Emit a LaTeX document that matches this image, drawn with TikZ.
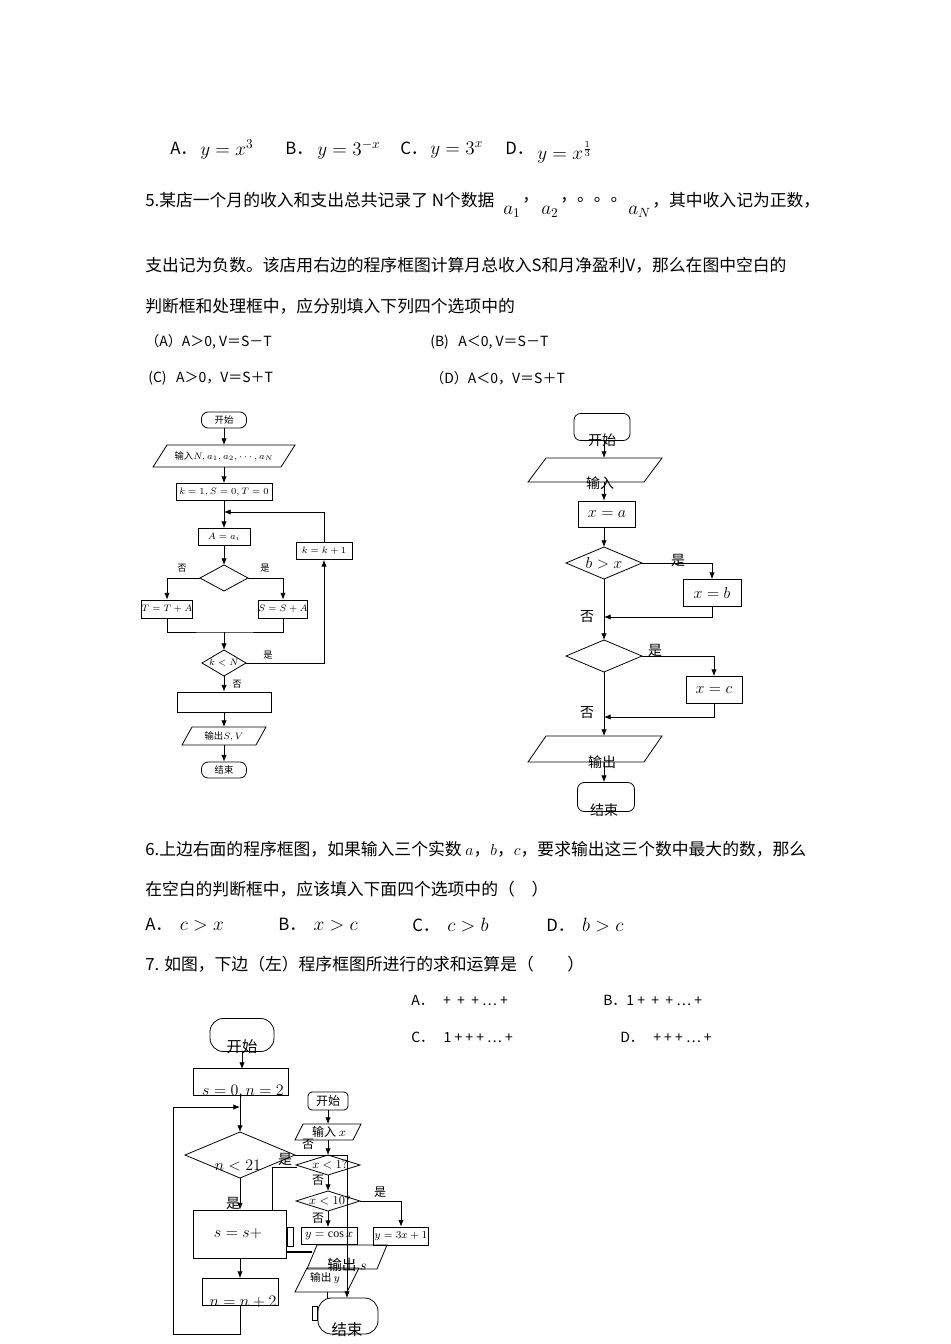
\documentclass[tikz,border=0pt]{standalone}
\usepackage{fontspec}
\setmainfont{Liberation Serif}
\newfontfamily\cjk{Noto Sans CJK SC}
\usetikzlibrary{arrows.meta}
\newcommand\para[6]{\draw[fl] ({#2-#4+#6},{#3-#5}) -- ({#2+#4},{#3-#5}) -- ({#2+#4-#6},{#3+#5}) -- ({#2-#4},{#3+#5}) -- cycle;
 \coordinate (#1-n) at (#2,{#3-#5}); \coordinate (#1-s) at (#2,{#3+#5});}
\newcommand\dia[5]{\draw[fl] ({#2-#4},#3) coordinate(#1-w) -- (#2,{#3-#5}) coordinate(#1-n) -- ({#2+#4},#3) coordinate(#1-e) -- (#2,{#3+#5}) coordinate(#1-s) -- cycle;}
\begin{document}
\begin{tikzpicture}[x=0.75pt,y=-0.75pt,
 txt/.style={anchor=west,inner sep=0pt,font=\cjk\fontsize{12.6}{14}\selectfont},
 opt/.style={anchor=west,inner sep=0pt,font=\cjk\fontsize{10.5}{12}\selectfont},
 fl/.style={draw,line width=0.6pt},
 bx/.style={draw,line width=0.6pt,inner sep=0pt},
 rbx/.style={bx,rounded corners=5pt},
 ar/.style={line width=0.6pt,-{Latex[length=5pt,width=4pt]}},
 ln/.style={line width=0.6pt},
 sm/.style={inner sep=0pt,font=\cjk\fontsize{7}{8}\selectfont},
 md/.style={inner sep=0pt,font=\cjk\fontsize{10.5}{11}\selectfont}]
\useasboundingbox (0,0) rectangle (950,1344);
% ---- top options
\node[txt] (a1) at (170,148) {A．};
\node[txt,font=\fontsize{14}{14}\selectfont] (a2) at (200,150) {$y=x^3$};
\node[txt] (b1) at (285,148) {B．};
\node[txt,font=\fontsize{14}{14}\selectfont] (b2) at (317,150) {$y=3^{-x}$};
\node[txt] (c1) at (400,148) {C．};
\node[txt,font=\fontsize{14}{14}\selectfont] (c2) at (430,150) {$y=3^x$};
\node[txt] (d1) at (505,148) {D．};
\node[txt,font=\fontsize{14}{14}\selectfont] (d2) at (537,152) {$y=x^{\frac13}$};
% ---- Q5
\node[txt] (q5a) at (145,200) {5.某店一个月的收入和支出总共记录了 N个数据};
\node[txt,font=\fontsize{14}{14}\selectfont] (q5b) at (503,212) {$a_1$};
\node[txt] (q5c) at (522,200) {，};
\node[txt,font=\fontsize{14}{14}\selectfont] (q5d) at (541,212) {$a_2$};
\node[txt] (q5e) at (560,200) {，。。。};
\node[txt,font=\fontsize{14}{14}\selectfont] (q5f) at (628,212) {$a_N$};
\node[txt] (q5g) at (652,200) {，其中收入记为正数，};
\node[txt] (q5h) at (145,265) {支出记为负数。该店用右边的程序框图计算月总收入S和月净盈利V，那么在图中空白的};
\node[txt] (q5i) at (145,306) {判断框和处理框中，应分别填入下列四个选项中的};
\node[opt] (oA) at (145,342) {（A）A＞0, V＝S－T};
\node[opt] (oB) at (430,342) {(B)\ \ \ A＜0, V＝S－T};
\node[opt] (oC) at (148,378) {(C)\ \ \ A＞0，V＝S＋T};
\node[opt] (oD) at (430,378) {（D）A＜0，V＝S＋T};
% ---- left flowchart
\node[rbx,minimum width=45*0.75pt,minimum height=16*0.75pt,sm] (L0) at (224,420) {开始};
\para{Lin}{224}{456}{71}{11}{14}
\node[sm] (Linl) at (224,456) {输入$N,a_1,a_2,\cdots,a_N$};
\node[bx,minimum width=96*0.75pt,minimum height=17*0.75pt,sm] (L1) at (224,492) {$k=1,S=0,T=0$};
\node[bx,minimum width=52*0.75pt,minimum height=17*0.75pt,sm] (L2) at (224,537) {$A=a_i$};
\dia{Ld}{224}{578}{24}{13}
\node[bx,minimum width=48*0.75pt,minimum height=18*0.75pt,sm] (LT) at (167,609) {$T=T+A$};
\node[bx,minimum width=47*0.75pt,minimum height=18*0.75pt,sm] (LS) at (283,609) {$S=S+A$};
\dia{Le}{224}{663}{22}{13}
\node[sm] (Lel) at (224,663) {$k<N$};
\node[bx,minimum width=56*0.75pt,minimum height=17*0.75pt,sm] (LK) at (324,551) {$k=k+1$};
\node[bx,minimum width=94*0.75pt,minimum height=20*0.75pt] (LB) at (224,702) {};
\para{Lo}{224}{736}{42}{9}{10}
\node[sm] (Lol) at (224,736) {输出$S,V$};
\node[rbx,minimum width=45*0.75pt,minimum height=16*0.75pt,sm] (LE) at (224,770) {结束};
\node[sm] (Ln1) at (182,568) {否};
\node[sm] (Ly1) at (265,568) {是};
\node[sm] (Ly2) at (268,655) {是};
\node[sm] (Ln2) at (237,684) {否};
\coordinate (Lj) at (224,512);
\coordinate (Lm) at (224,632);
\draw[ar] (L0) -- (Lin-n);
\draw[ar] (Lin-s) -- (L1);
\draw[ar] (L1) -- (L2);
\draw[ar] (L2) -- (Ld-n);
\draw[ar] (Ld-w) -| (LT);
\draw[ar] (Ld-e) -| (LS);
\draw[ln] (LT.south) |- (Lm) -| (LS.south);
\draw[ar] (Lm) -- (Le-n);
\draw[ar] (Le-e) -| (LK);
\draw[ar] (LK) |- (Lj);
\draw[ar] (Le-s) -- (LB);
\draw[ar] (LB) -- (Lo-n);
\draw[ar] (Lo-s) -- (LE);
% ---- right flowchart
\node[rbx,minimum width=56*0.75pt,minimum height=27*0.75pt] (R0) at (602,427) {};
\node[md] (R0l) at (602,440) {开始};
\para{Rin}{595}{470}{67}{12}{18}
\node[md] (Rinl) at (600,483) {输入};
\node[bx,minimum width=57*0.75pt,minimum height=26*0.75pt,font=\fontsize{13}{14}\selectfont] (R1) at (607,514) {$x = a$};
\dia{Rd}{604}{563}{38}{16}
\node[inner sep=0pt,font=\fontsize{13}{14}\selectfont] (Rdl) at (604,563) {$b>x$};
\node[bx,minimum width=58*0.75pt,minimum height=27*0.75pt,font=\fontsize{13}{14}\selectfont] (Rb) at (712,593) {$x=b$};
\dia{Re}{604}{656}{38}{16}
\node[bx,minimum width=56*0.75pt,minimum height=27*0.75pt,font=\fontsize{13}{14}\selectfont] (Rc) at (714,690) {$x=c$};
\para{Ro}{595}{749}{67}{13}{18}
\node[md] (Rol) at (602,762) {输出};
\node[rbx,minimum width=57*0.75pt,minimum height=29*0.75pt] (RE) at (606,797) {};
\node[md] (REl) at (604,810) {结束};
\node[md] (Ry1) at (678,560) {是};
\node[md] (Rn1) at (587,617) {否};
\node[md] (Ry2) at (655,650) {是};
\node[md] (Rn2) at (587,713) {否};
\coordinate (Rj1) at (604,617);
\coordinate (Rj2) at (604,717);
\draw[ar] (604,440.5) -- (Rd-n |- Rin-n);
\draw[ar] (Rd-n |- Rin-s) -- (Rd-n |- R1.north);
\draw[ar] (Rd-n |- R1.south) -- (Rd-n);
\draw[ar] (Rd-e) -| (Rb);
\draw[ar] (Rb.south) |- (Rj1);
\draw[ar] (Rd-s) -- (Re-n);
\draw[ar] (Re-e) -| (Rc);
\draw[ar] (Rc.south) |- (Rj2);
\draw[ar] (Re-s) -- (Re-s |- Ro-n);
\draw[ar] (Re-s |- Ro-s) -- (Re-s |- RE.north);
% ---- Q6, Q7
\node[txt] (q6a) at (145,849) {6.上边右面的程序框图，如果输入三个实数 $a$，$b$，$c$，要求输出这三个数中最大的数，那么};
\node[txt] (q6b) at (145,889) {在空白的判断框中，应该填入下面四个选项中的（\quad）};
\node[txt] (s6A) at (145,925) {A．\ \ {\fontsize{14}{14}\selectfont$c>x$}};
\node[txt] (s6B) at (278,925) {B．\ \ {\fontsize{14}{14}\selectfont$x>c$}};
\node[txt] (s6C) at (412,925) {C．\ \ {\fontsize{14}{14}\selectfont$c>b$}};
\node[txt] (s6D) at (546,925) {D．\ \ {\fontsize{14}{14}\selectfont$b>c$}};
\node[txt] (q7) at (145,964) {7. 如图，下边（左）程序框图所进行的求和运算是（\qquad）};
\node[opt] (s7A) at (411,1000) {A．\ \ \ +\ \ +\ \ +\ ⋯\ +};
\node[opt] (s7B) at (603,1000) {B．1\ +\ \ +\ \ +\ ⋯\ +};
\node[opt] (s7C) at (411,1037) {C．\ \ \ 1\ +\ +\ +\ ⋯\ +};
\node[opt] (s7D) at (620,1037) {D．\ \ \ +\ +\ +\ ⋯\ +};
% ---- bottom left flowchart
\node[rbx,rounded corners=10pt,minimum width=64*0.75pt,minimum height=33*0.75pt] (B0) at (242,1035) {};
\node[md,font=\cjk\fontsize{11.5}{12}\selectfont] (B0l) at (242,1047) {开始};
\node[bx,minimum width=95*0.75pt,minimum height=27*0.75pt] (B1) at (241,1082) {};
\node[md,font=\fontsize{12}{12}\selectfont] (B1l) at (243,1092) {$s=0,n=2$};
\dia{Bd}{240}{1155}{55}{23}
\node[md,font=\fontsize{12}{12}\selectfont] (Bdl) at (238,1166) {$n<21$};
\node[bx,minimum width=93*0.75pt,minimum height=48*0.75pt] (B2) at (240,1234) {};
\node[md,font=\fontsize{12}{12}\selectfont] (B2l) at (238,1233) {$s=s+$};
\node[bx,minimum width=76*0.75pt,minimum height=27*0.75pt] (B3) at (240,1292) {};
\node[md,font=\fontsize{12}{12}\selectfont] (B3l) at (243,1302) {$n=n+2$};
\node[bx,minimum width=6*0.75pt,minimum height=19*0.75pt] (Btab) at (290,1237) {};
\node[md] (By1) at (233,1203) {是};
\node[md] (By2) at (285,1159) {是};
\coordinate (Bj) at (240,1107);
\coordinate (Bll) at (173,1334);
\draw[ar] (242,1052) -- (242,1069);
\draw[ar] (Bd-n |- B1.south) -- (Bd-n);
\draw[ar] (Bd-s) -- (B2);
\draw[ar] (B2) -- (B3);
\draw[ln] (B3.south) -- (240,1334) -- (Bll) -- (173,1107);
\draw[ar] (173,1107) -- (Bj);
\draw[ln] (272,1210) -- (272,1167) -- (297,1167);
\draw[ln] (Bd-e) -- (347,1155) -- (347,1243);
\draw[line width=1.2pt] (B2.east |- 0,1252) -- (312,1252);
% ---- small flowchart
\node[rbx,rounded corners=3pt,minimum width=40*0.75pt,minimum height=18*0.75pt,md,font=\cjk\fontsize{9}{10}\selectfont] (S0) at (328,1101) {开始};
\para{Sin}{328}{1132}{33}{8}{8}
\node[md,font=\cjk\fontsize{9}{10}\selectfont] (Sinl) at (329,1132) {输入 $x$};
\dia{Sd}{328}{1165}{32}{10}
\node[md,font=\fontsize{9}{10}\selectfont] (Sdl) at (330,1165) {$x<1?$};
\dia{Se}{328}{1201}{32}{10}
\node[md,font=\fontsize{9}{10}\selectfont] (Sel) at (330,1201) {$x<10?$};
\node[bx,minimum width=56*0.75pt,minimum height=17*0.75pt,font=\fontsize{9}{10}\selectfont] (Sc) at (329,1236) {$y=\cos x$};
\node[bx,minimum width=55*0.75pt,minimum height=18*0.75pt,font=\fontsize{8}{10}\selectfont] (S3) at (401,1236) {$y=3x+1$};
\para{So}{347}{1257}{40}{12}{10}
\node[md,font=\cjk\fontsize{11}{12}\selectfont] (Sol) at (347,1265) {输出 $s$};
\para{Sy}{327}{1280}{32}{12}{12}
\node[md,font=\cjk\fontsize{8}{10}\selectfont] (Syl) at (325,1278) {输出 $y$};
\node[rbx,rounded corners=10pt,minimum width=60*0.75pt,minimum height=36*0.75pt] (SE) at (348,1316) {};
\node[bx,minimum width=5*0.75pt,minimum height=14*0.75pt] (SEtab) at (315,1313) {};
\node[md,font=\cjk\fontsize{11.5}{12}\selectfont] (SEl) at (347,1330) {结束};
\node[md,font=\cjk\fontsize{9}{10}\selectfont] (Sn0) at (308,1144) {否};
\node[md,font=\cjk\fontsize{9}{10}\selectfont] (Sn1) at (318,1180) {否};
\node[md,font=\cjk\fontsize{9}{10}\selectfont] (Sy1) at (380,1192) {是};
\node[md,font=\cjk\fontsize{9}{10}\selectfont] (Sn2) at (318,1218) {否};
\draw[ar] (S0) -- (Sin-n);
\draw[ar] (Sin-s) -- (Sd-n);
\draw[ar] (Sd-s) -- (Se-n);
\draw[ar] (Se-s) -- (Se-s |- Sc.north);
\draw[ar] (Se-e) -| (S3);
\draw[ar] (347,1243) -- (347,1298);
\draw[ln] (Sy-s) -- (327,1298);
\end{tikzpicture}
\end{document}
